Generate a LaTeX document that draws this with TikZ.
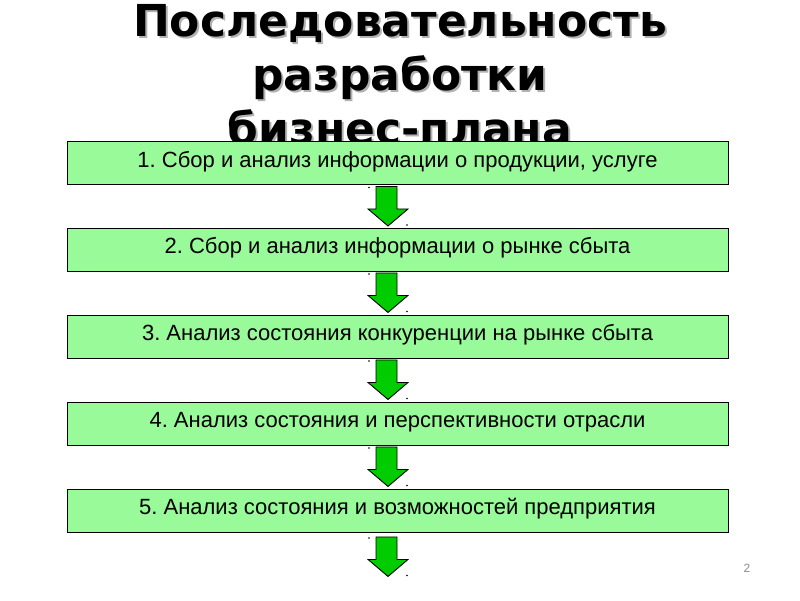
\documentclass[tikz,border=0pt]{standalone}
\usepackage{fontspec}
\setmainfont{Liberation Sans}
\newfontfamily\titlefont{DejaVu Sans}
\usetikzlibrary{calc}
\frenchspacing
\definecolor{boxgreen}{RGB}{153,250,153}
\definecolor{arrgreen}{RGB}{0,204,0}
\tikzset{
  stepbox/.style={draw=black, line width=0.9pt, fill=boxgreen, minimum width=661pt, minimum height=43pt, inner sep=0pt, text height=12pt, text depth=4pt, font=\fontsize{22}{26}\selectfont},
  blockarrow/.style={draw=black, line width=0.9pt, fill=arrgreen},
  titletext/.style={font=\titlefont\bfseries\fontsize{44}{54}\selectfont, align=center, inner sep=0pt},
}
\newcommand{\stepdown}[1]{%
  \draw[blockarrow] ($(#1)+(-21.5,1.5)$) -- ++(21,0) -- ++(0,22.5) -- ++(11,0) -- ($(#1)+(-9.5,41)$) -- ++(-20,-17) -- ++(8,0) -- cycle;
  \fill ($(#1)+(-28.5,2.5)$) circle (0.9pt);
  \fill ($(#1)+(9.5,40)$) circle (0.9pt);
}
\begin{document}
\begin{tikzpicture}[x=1pt,y=-1pt]
\useasboundingbox (0,0) rectangle (800,600);
\node[titletext, text=black!30] (titleshadow) at (402,77) {Последовательность\\разработки\\бизнес-плана};
\node[titletext] (title) at (400,75) {Последовательность\\разработки\\бизнес-плана};
\node[stepbox] (b1) at (397.5,163) {1. Сбор и анализ информации о продукции, услуге};
\node[stepbox] (b2) at (397.5,249.5) {2. Сбор и анализ информации о рынке сбыта};
\node[stepbox] (b3) at (397.5,336.5) {3. Анализ состояния конкуренции на рынке сбыта};
\node[stepbox] (b4) at (397.5,423.5) {4. Анализ состояния и перспективности отрасли};
\node[stepbox] (b5) at (397.5,510.5) {5. Анализ состояния и возможностей предприятия};
\coordinate (end) at ($(b5.south)+(0,3)$);
\stepdown{b1.south}
\stepdown{b2.south}
\stepdown{b3.south}
\stepdown{b4.south}
\stepdown{end}
\node[text=black!45, font=\fontsize{12}{14}\selectfont] (pagenum) at (747,568) {2};
\end{tikzpicture}
\end{document}
